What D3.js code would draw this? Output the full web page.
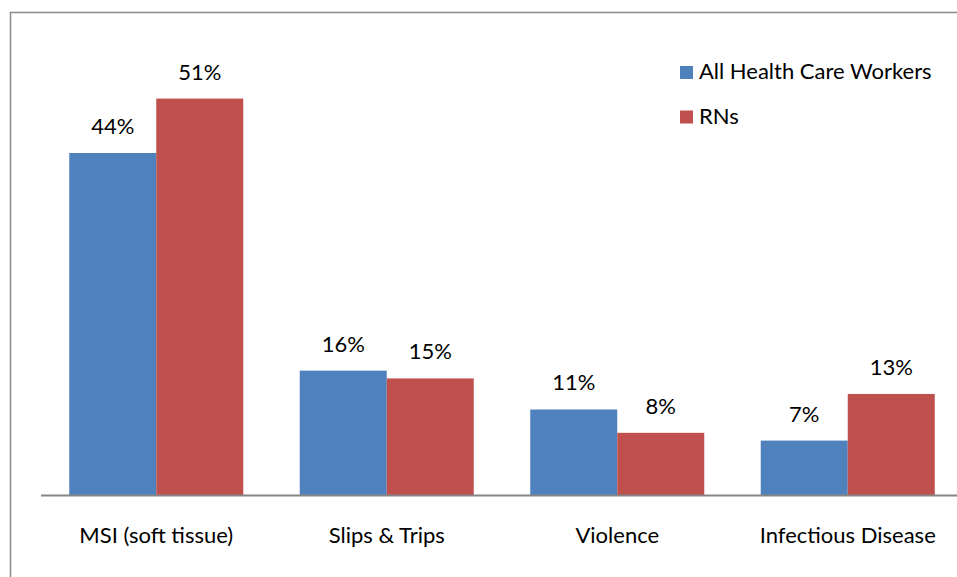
<!DOCTYPE html>
<html lang="en">
<head>
    <meta charset="UTF-8">
    <title>Injury types</title>
    <script src="https://cdn.jsdelivr.net/npm/d3@7"></script>
    <style>
        body { margin: 0; background: #fff; }
        text { font-family: Lato, "Open Sans", sans-serif; fill: #000; }
    </style>
</head>
<body>
<svg width="957" height="577"></svg>
<script>

    var categories = ["MSI (soft tissue)", "Slips & Trips", "Violence", "Infectious Disease"];
    var seriesNames = ["All Health Care Workers", "RNs"];
    var allWorkers = [44, 16, 11, 7];
    var rns = [51, 15, 8, 13];
    var colors = ["#4F81BD", "#C0504D"];

    var svg = d3.select("svg");

    // outer frame (cut off at right / bottom like the source image)
    svg.append("path")
        .attr("d", "M10.5,577V12.5H957")
        .attr("fill", "none")
        .attr("stroke", "#8c8c8c")
        .attr("stroke-width", 1.5);

    var x0 = d3.scaleBand()
        .domain(categories)
        .range([41, 963])
        .paddingInner(0)
        .paddingOuter(0);

    var x1 = d3.scaleBand()
        .domain(seriesNames)
        .range([0, x0.bandwidth()])
        .paddingInner(0)
        .paddingOuter(56.5 / 2 / 87);

    var y = d3.scaleLinear()
        .domain([0, 60])
        .range([495, 495 - 60 * 7.773]);

    var rows = categories.map(function (c, i) {
        return {cat: c, vals: [allWorkers[i], rns[i]]};
    });

    var group = svg.append("g").selectAll("g")
        .data(rows)
        .enter().append("g")
        .attr("transform", function (d) { return "translate(" + x0(d.cat) + ",0)"; });

    var bars = group.selectAll("g")
        .data(function (d) {
            return d.vals.map(function (v, i) { return {name: seriesNames[i], v: v, i: i}; });
        })
        .enter().append("g");

    bars.append("rect")
        .attr("x", function (d) { return x1(d.name); })
        .attr("width", x1.bandwidth())
        .attr("y", function (d) { return y(d.v); })
        .attr("height", function (d) { return y(0) - y(d.v); })
        .attr("fill", function (d) { return colors[d.i]; });

    bars.append("text")
        .attr("x", function (d) { return x1(d.name) + x1.bandwidth() / 2; })
        .attr("y", function (d) { return y(d.v) - 19; })
        .attr("text-anchor", "middle")
        .style("font-size", "22px")
        .text(function (d) { return d.v + "%"; });

    // baseline
    svg.append("line")
        .attr("x1", 41).attr("x2", 957)
        .attr("y1", y(0) + 0.5).attr("y2", y(0) + 0.5)
        .attr("stroke", "#868686")
        .attr("stroke-width", 2);

    // category labels
    svg.append("g").selectAll("text")
        .data(categories)
        .enter().append("text")
        .attr("x", function (d) { return x0(d) + x0.bandwidth() / 2; })
        .attr("y", 543)
        .attr("text-anchor", "middle")
        .style("font-size", "22px")
        .text(function (d) { return d; });

    // legend
    var legend = svg.append("g").selectAll("g")
        .data(seriesNames)
        .enter().append("g")
        .attr("transform", function (d, i) { return "translate(680," + (66 + i * 44.5) + ")"; });

    legend.append("rect")
        .attr("width", 13).attr("height", 13)
        .attr("fill", function (d, i) { return colors[i]; });

    legend.append("text")
        .attr("x", 19)
        .attr("y", 13)
        .style("font-size", "22px")
        .text(function (d) { return d; });

</script>
</body>
</html>
